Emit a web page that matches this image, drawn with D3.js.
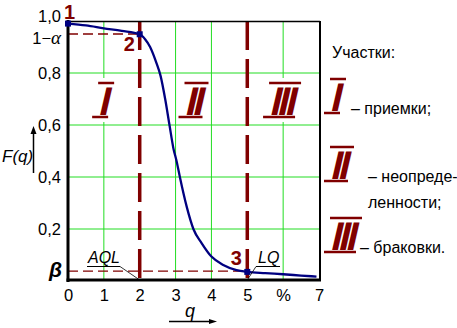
<!DOCTYPE html>
<html><head><meta charset="utf-8">
<script src="https://cdn.jsdelivr.net/npm/d3@7"></script>
<style>
body{margin:0;background:#fff;}
text{font-family:"Liberation Sans",Arial,sans-serif;}
</style></head>
<body><svg id="c" width="457" height="328"></svg>
<script>
// ---- data ----
const qValues = [0, 0.5, 1, 1.5, 2, 2.15, 2.29, 2.47, 2.58, 2.71, 2.83, 2.94, 3.03, 3.12, 3.31, 3.5, 3.73, 4.0, 4.33, 4.7, 5.0, 5.5, 6.0, 6.5, 6.93];
const fValues = [0.99, 0.983, 0.972, 0.962, 0.949, 0.93, 0.90, 0.837, 0.79, 0.70, 0.60, 0.51, 0.46, 0.40, 0.286, 0.199, 0.145, 0.094, 0.062, 0.042, 0.035, 0.03, 0.026, 0.021, 0.017];
const keyPoints = [{q:0, f:0.99, label:"1"}, {q:2, f:0.949, label:"2"}, {q:5, f:0.035, label:"3"}];
const alphaLevel = 0.95;
const betaLevel = 0.038;
const xTickValues = [0,1,2,3,4,5,6,7];
const xTickLabels = ["0","1","2","3","4","5","%","7"];
const yTickValues = [1.0, 0.8, 0.6, 0.4, 0.2];
const yTickLabels = ["1,0","0,8","0,6","0,4","0,2"];
const gridX = [1,3,4,6];
const gridY = [0.2,0.4,0.6,0.8];
const zoneBounds = [2,5];
const zoneNumerals = [{q:0.98, n:"I"},{q:3.5, n:"II"},{q:5.97, n:"III"}];
const legendTitle = "Участки:";
const legendItems = [
  {n:"I", lines:["– приемки;"]},
  {n:"II", lines:["– неопреде-","ленности;"]},
  {n:"III", lines:["– браковки."]}
];

const svg = d3.select("#c");
const x = d3.scaleLinear().domain([0,7]).range([68,319]);
const y = d3.scaleLinear().domain([0,1]).range([281,21]);
const RED = "#800000", NAVY = "#000080", GREEN = "#22dd22";

// grid
svg.append("g").selectAll("line").data(gridX).join("line")
  .attr("x1", d=>x(d)).attr("x2", d=>x(d)).attr("y1", y(1)).attr("y2", y(0))
  .attr("stroke", GREEN).attr("stroke-width", 1);
svg.append("g").selectAll("line").data(gridY).join("line")
  .attr("x1", x(0)).attr("x2", x(7)).attr("y1", d=>y(d)).attr("y2", d=>y(d))
  .attr("stroke", GREEN).attr("stroke-width", 1);

// numeral drawer (text + bars)
function numeral(g, cx, cy, n, bg) {
  const w = n.length*8 + 8;
  const gg = g.append("g").attr("transform", `translate(${cx},${cy})`);
  if (bg) gg.append("rect").attr("x", -w/2-4).attr("y", -22).attr("width", w+8).attr("height", 44).attr("fill", "#fff");
  gg.append("line").attr("x1", -w/2+3).attr("x2", w/2+3).attr("y1", -17).attr("y2", -17).attr("stroke", RED).attr("stroke-width", 2.5);
  gg.append("line").attr("x1", -w/2-3).attr("x2", w/2-3).attr("y1", 17).attr("y2", 17).attr("stroke", RED).attr("stroke-width", 2.5);
  gg.append("text").attr("transform", "skewX(-13)")
    .attr("x", 1.5).attr("y", 15).attr("text-anchor", "middle")
    .attr("font-size", 40).attr("font-weight", "bold").attr("fill", RED)
    .attr("letter-spacing", -3.5)
    .text(n);
}
const zg = svg.append("g");
zoneNumerals.forEach(z => numeral(zg, x(z.q), 100, z.n, true));

// 1-alpha and beta dashed lines
svg.append("line").attr("x1", x(0)).attr("x2", x(2)).attr("y1", y(alphaLevel)).attr("y2", y(alphaLevel))
  .attr("stroke", RED).attr("stroke-width", 1.3).attr("stroke-dasharray", "10,5");
svg.append("line").attr("x1", x(0)).attr("x2", x(5)).attr("y1", y(betaLevel)).attr("y2", y(betaLevel))
  .attr("stroke", RED).attr("stroke-width", 1.3).attr("stroke-dasharray", "10,5");

// zone bounds
svg.append("g").selectAll("line").data(zoneBounds).join("line")
  .attr("x1", d=>x(d)).attr("x2", d=>x(d)).attr("y1", y(1)).attr("y2", y(0))
  .attr("stroke", RED).attr("stroke-width", 3.5).attr("stroke-dasharray", "29,9");

// frame
svg.append("line").attr("x1", x(0)).attr("x2", x(7)+1).attr("y1", y(1)+0.5).attr("y2", y(1)+0.5).attr("stroke","#000").attr("stroke-width",1.5);
svg.append("line").attr("x1", x(7)+1).attr("x2", x(7)+1).attr("y1", y(1)).attr("y2", y(0)).attr("stroke","#000").attr("stroke-width",2);

// curve
const pts = qValues.map((q,i)=>[q,fValues[i]]);
svg.append("path").datum(pts)
  .attr("d", d3.line().x(d=>x(d[0])).y(d=>y(d[1])).curve(d3.curveMonotoneX))
  .attr("fill","none").attr("stroke", NAVY).attr("stroke-width", 2.3);

// axes
const xAxis = svg.append("g").attr("transform", `translate(0,${y(0)-1})`)
  .call(d3.axisBottom(x).tickValues(xTickValues).tickSize(0).tickPadding(9).tickFormat((d,i)=>xTickLabels[i]));
xAxis.select(".domain").attr("stroke-width", 3).attr("d", `M${x(0)-1.5},0H${x(7)+2}`);
xAxis.selectAll("text").attr("font-size", 16.5).attr("font-family", "Liberation Sans, Arial").attr("fill","#000");

const yAxis = svg.append("g").attr("transform", `translate(${x(0)},0)`)
  .call(d3.axisLeft(y).tickValues(yTickValues).tickSize(0).tickPadding(7).tickFormat((d,i)=>yTickLabels[i]));
yAxis.select(".domain").attr("stroke-width", 3).attr("d", `M0,${y(1)-1}V${y(0)+1}`);
yAxis.selectAll("text").attr("font-size", 16.5).attr("font-family", "Liberation Sans, Arial").attr("fill","#000");
yAxis.selectAll(".tick").filter(d=>d===1).select("text").attr("dy", "0.03em");

// 1-alpha and beta labels
const al = svg.append("text").attr("x", 61).attr("y", y(alphaLevel)+10).attr("text-anchor","end").attr("font-size",16.5);
al.append("tspan").text("1−");
al.append("tspan").attr("font-family","Liberation Serif, serif").attr("font-style","italic").attr("font-size",19).text("α");
svg.append("text").attr("x", 62).attr("y", y(betaLevel)+6).attr("text-anchor","end")
  .attr("font-family","Liberation Serif, serif").attr("font-style","italic").attr("font-weight","bold").attr("font-size",21).text("β");

// markers and numbers
svg.append("g").selectAll("rect").data(keyPoints).join("rect")
  .attr("x", d=>x(d.q)-3).attr("y", d=>y(d.f)-3).attr("width",6).attr("height",6).attr("fill",NAVY);
const numOff = [[1.5,-5],[-10.5,17],[-11,-7]];
svg.append("g").selectAll("text").data(keyPoints).join("text")
  .attr("x", (d,i)=>x(d.q)+numOff[i][0]).attr("y",(d,i)=>y(d.f)+numOff[i][1])
  .attr("text-anchor","middle").attr("font-size",20).attr("font-weight","bold").attr("fill",RED)
  .text(d=>d.label);

// AQL & LQ
function callout(txt, tx, ulx1, ulx2, tipQ, tipX){
  svg.append("text").attr("x", tx).attr("y", 263).attr("font-size",16).attr("font-style","italic").text(txt);
  svg.append("line").attr("x1",ulx1).attr("x2",ulx2).attr("y1",266.5).attr("y2",266.5).attr("stroke","#000").attr("stroke-width",1);
  svg.append("line").attr("x1",tipX).attr("x2",x(tipQ)).attr("y1",266.5).attr("y2",y(0)-1).attr("stroke","#000").attr("stroke-width",0.8);
}
callout("AQL", 88, 87, 120, 2, 120);
callout("LQ", 258, 256, 280, 5, 256);

// axis titles
svg.append("text").attr("x", 2).attr("y", 162).attr("font-size",17).attr("font-style","italic").text("F(q)");
svg.append("line").attr("x1",33.5).attr("x2",33.5).attr("y1",173).attr("y2",131).attr("stroke","#000").attr("stroke-width",1.5);
svg.append("path").attr("d","M30.5,134L33.5,126L36.5,134Z").attr("fill","#000");
svg.append("text").attr("x", 185).attr("y", 317).attr("font-size",18).attr("font-style","italic").text("q");
svg.append("line").attr("x1",169).attr("x2",211).attr("y1",321.5).attr("y2",321.5).attr("stroke","#000").attr("stroke-width",1.5);
svg.append("path").attr("d","M209,319L217,321.5L209,324Z").attr("fill","#000");

// legend
svg.append("text").attr("x", 332).attr("y", 58).attr("font-size",16).text(legendTitle);
const lg = svg.append("g");
const legY = [96, 164, 235];
const legTextPos = [[351,114],[368,182],[360,253]];
legendItems.forEach((it,i)=>{
  numeral(lg, 335 + i*4, legY[i], it.n, false);
  it.lines.forEach((ln,j)=>{
    lg.append("text").attr("x", legTextPos[i][0]).attr("y", legTextPos[i][1] + j*26).attr("font-size",16).text(ln);
  });
});
</script></body></html>
